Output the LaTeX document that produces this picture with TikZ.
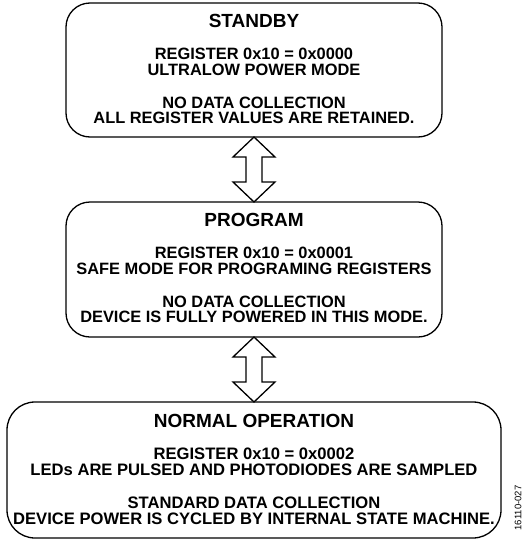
\documentclass[tikz,border=0pt]{standalone}
\usepackage{fontspec}
\setmainfont{Liberation Sans}
\usetikzlibrary{positioning,calc}

\newcommand{\modename}[1]{{\fontsize{19}{20}\selectfont #1}}

\begin{document}
\begin{tikzpicture}[node distance=65pt]
	\tikzstyle{mode}
	  =[draw, line width=1.3pt, rounded corners=24pt, minimum width=376pt,
	  minimum height=134pt, outer sep=0pt, inner sep=0pt]
	\tikzstyle{modetext}
	  =[align=center, inner sep=0pt, font=\fontsize{16.4}{15.3}\selectfont\bfseries]
	\tikzstyle{hollow}
	  =[line width=1.3pt, line join=miter, to path={
	  -- ($(\tikztostart)+(21pt,-20pt)$) -- ($(\tikztostart)+(8pt,-20pt)$)
	  -- ($(\tikztotarget)+(8pt,20pt)$) -- ($(\tikztotarget)+(21pt,20pt)$)
	  -- (\tikztotarget)
	  -- ($(\tikztotarget)+(-21pt,20pt)$) -- ($(\tikztotarget)+(-8pt,20pt)$)
	  -- ($(\tikztostart)+(-8pt,-20pt)$) -- ($(\tikztostart)+(-21pt,-20pt)$)
	  -- cycle}]

	\useasboundingbox (0,0) rectangle (524pt,-541pt);

	\node[mode] (standby)
	  at (254pt,-70pt) {};
	\node[modetext] (standbytext)
	  [below=11pt of standby.north] {\modename{STANDBY}\\[17pt]
	  REGISTER 0x10 = 0x0000\\ULTRALOW POWER MODE\\[18pt]
	  NO DATA COLLECTION\\ALL REGISTER VALUES ARE RETAINED.};

	\node[mode, minimum height=135pt] (program)
	  [below=of standby] {};
	\node[modetext] (programtext)
	  [below=11pt of program.north] {\modename{PROGRAM}\\[17pt]
	  REGISTER 0x10 = 0x0001\\SAFE MODE FOR PROGRAMING REGISTERS\\[18pt]
	  NO DATA COLLECTION\\DEVICE IS FULLY POWERED IN THIS MODE.};

	\node[mode, minimum width=494pt, minimum height=136pt, rounded corners=28pt] (normal)
	  [below=of program] {};
	\node[modetext, font=\fontsize{16.6}{15.8}\selectfont\bfseries] (normaltext)
	  [below=12pt of normal.north] {\modename{NORMAL OPERATION}\\[16.5pt]
	  REGISTER 0x10 = 0x0002\\LEDs ARE PULSED AND PHOTODIODES ARE SAMPLED\\[17pt]
	  STANDARD DATA COLLECTION\\DEVICE POWER IS CYCLED BY INTERNAL STATE MACHINE.};

	\node[rotate=90, font=\fontsize{9.5}{10}\selectfont] (figno)
	  at (518pt,-508pt) {16110-027};

	\draw[hollow] (standby.south) to (program.north);
	\draw[hollow] (program.south) to (normal.north);
\end{tikzpicture}
\end{document}
